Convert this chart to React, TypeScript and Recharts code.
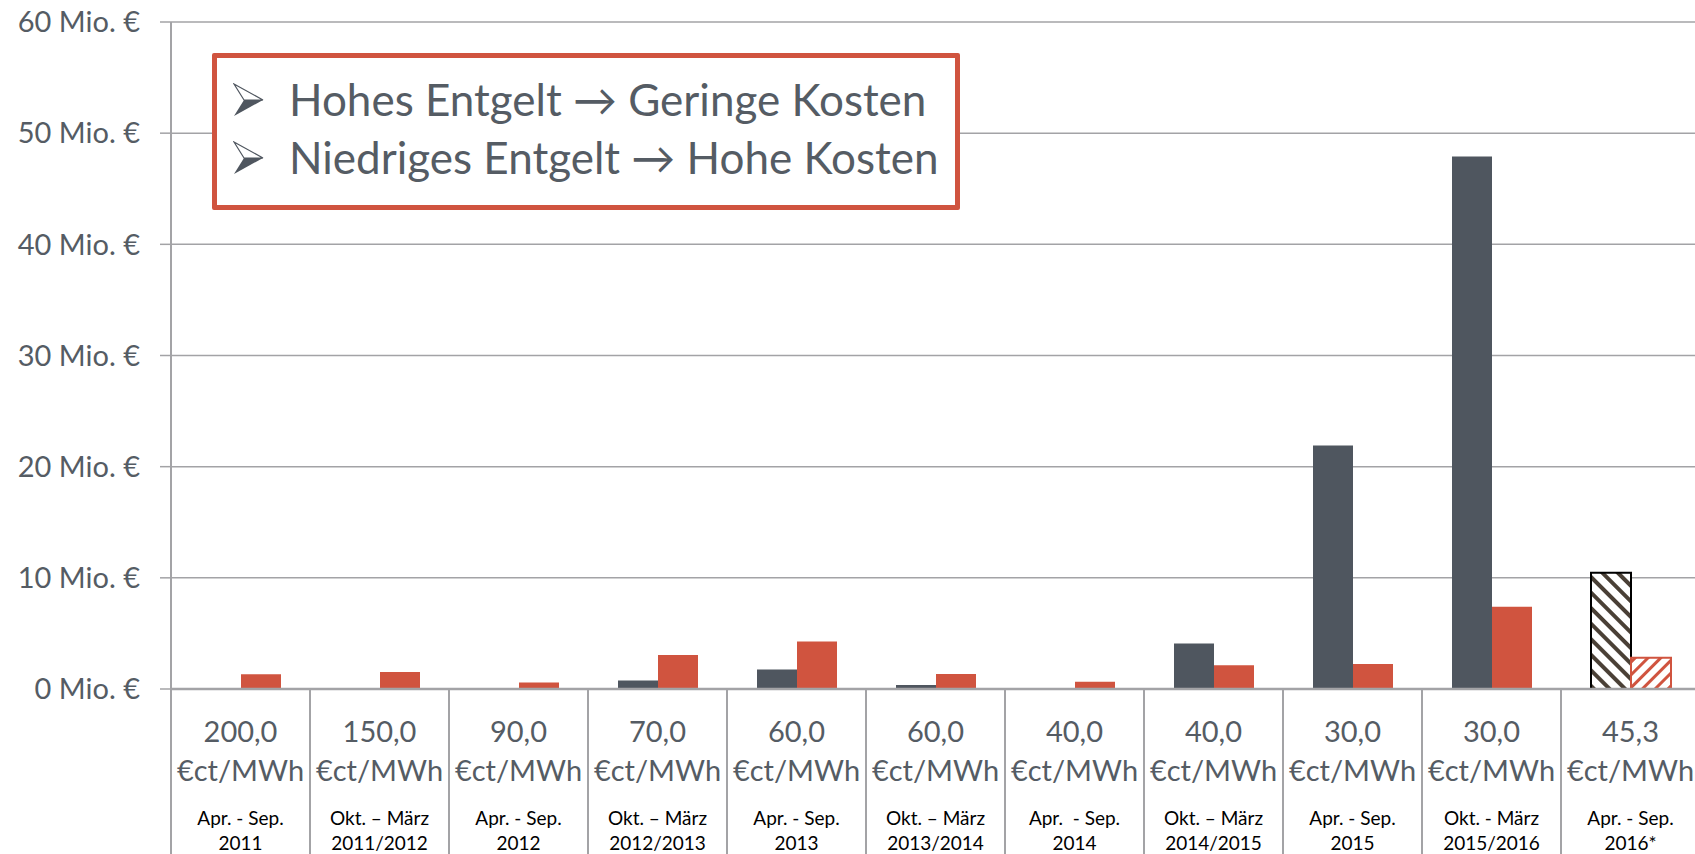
import { BarChart, Bar, Cell, XAxis, YAxis, CartesianGrid } from 'recharts';

const tariffs = ['200,0', '150,0', '90,0', '70,0', '60,0', '60,0', '40,0', '40,0', '30,0', '30,0', '45,3'];
const periods = [
  'Apr. - Sep.', 'Okt. – März', 'Apr. - Sep.', 'Okt. – März', 'Apr. - Sep.', 'Okt. – März',
  'Apr.  - Sep.', 'Okt. – März', 'Apr. - Sep.', 'Okt. - März', 'Apr. - Sep.',
];
const years = ['2011', '2011/2012', '2012', '2012/2013', '2013', '2013/2014', '2014', '2014/2015', '2015', '2015/2016', '2016*'];
const darkValues = [0, 0, 0, 0.77, 1.75, 0.35, 0.1, 4.1, 21.9, 47.9, 10.45];
const redValues = [1.32, 1.52, 0.58, 3.05, 4.28, 1.36, 0.66, 2.14, 2.24, 7.39, 2.8];
const yTicks = [0, 10, 20, 30, 40, 50, 60];
const notes = ['Hohes Entgelt → Geringe Kosten', 'Niedriges Entgelt → Hohe Kosten'];

const data = tariffs.map((t, i) => ({ name: t, dark: darkValues[i], red: redValues[i] }));

const DARK = '#4f565f';
const RED = '#d0543f';
const AXIS = '#a3a3a6';
const TEXT = '#555c64';
const BAND = 139;
const FONT = 'Lato, "Open Sans", sans-serif';

const CategoryTick = (props: any) => {
  const { x, y, payload } = props;
  const i = payload.index;
  return (
    <g>
      <line x1={x - BAND / 2} y1={y} x2={x - BAND / 2} y2={y + 170} stroke={AXIS} strokeWidth={2} />
      <text x={x} y={y + 53} textAnchor="middle" fontSize={29} fill={TEXT} fontFamily={FONT}>{tariffs[i]}</text>
      <text x={x} y={y + 92} textAnchor="middle" fontSize={29} fill={TEXT} fontFamily={FONT}>€ct/MWh</text>
      <text x={x} y={y + 136} textAnchor="middle" fontSize={19} fill="#000" fontFamily={FONT} style={{ whiteSpace: 'pre' }}>{periods[i]}</text>
      <text x={x} y={y + 161} textAnchor="middle" fontSize={19} fill="#000" fontFamily={FONT}>{years[i]}</text>
    </g>
  );
};

const Arrowhead = () => (
  <svg width={32} height={34} viewBox="0 0 32 34" style={{ position: 'absolute', left: 0, top: -17 }}>
    <polygon points="1,1 30,17 11,17" fill="#fff" stroke="#4f565f" strokeWidth={1.2} />
    <polygon points="11,17 30,17 1,33" fill="#4f565f" />
  </svg>
);

export default function App() {
  return (
    <div style={{ position: 'absolute', left: 0, top: 0, width: 1695, height: 854, overflow: 'hidden', background: '#fff', fontFamily: FONT }}>
      <BarChart width={1700} height={854} data={data} margin={{ top: 22, right: 0, bottom: 0, left: 0 }} barGap={0} barSize={40}>
        <defs>
          <pattern id="hatchDark" patternUnits="userSpaceOnUse" width={11} height={11} patternTransform="rotate(-45)">
            <rect width={11} height={11} fill="#fff" />
            <line x1={0} y1={0} x2={0} y2={11} stroke="#4a4036" strokeWidth={8} />
          </pattern>
          <pattern id="hatchRed" patternUnits="userSpaceOnUse" width={9} height={9} patternTransform="rotate(45)">
            <rect width={9} height={9} fill="#fff" />
            <line x1={0} y1={0} x2={0} y2={9} stroke={RED} strokeWidth={6} />
          </pattern>
        </defs>
        <CartesianGrid horizontal vertical={false} stroke={AXIS} strokeWidth={1.5} />
        <YAxis
          width={171}
          domain={[0, 60]}
          ticks={yTicks}
          interval={0}
          tickFormatter={(v: number) => `${v} Mio. €`}
          tick={{ fontSize: 29, fill: TEXT, fontFamily: FONT }}
          tickSize={11}
          tickMargin={20}
          tickLine={{ stroke: AXIS, strokeWidth: 1.5 }}
          axisLine={{ stroke: AXIS, strokeWidth: 2 }}
        />
        <XAxis
          dataKey="name"
          height={165}
          interval={0}
          tickSize={0}
          tickMargin={0}
          tickLine={false}
          axisLine={{ stroke: AXIS, strokeWidth: 2.5 }}
          tick={<CategoryTick />}
        />
        <Bar dataKey="dark" fill={DARK} isAnimationActive={false}>
          {data.map((_, i) => (
            <Cell
              key={`d-${i}`}
              fill={i === data.length - 1 ? 'url(#hatchDark)' : DARK}
              stroke={i === data.length - 1 ? '#000' : 'none'}
              strokeWidth={2}
            />
          ))}
        </Bar>
        <Bar dataKey="red" fill={RED} isAnimationActive={false}>
          {data.map((_, i) => (
            <Cell
              key={`r-${i}`}
              fill={i === data.length - 1 ? 'url(#hatchRed)' : RED}
              stroke={i === data.length - 1 ? RED : 'none'}
              strokeWidth={2}
            />
          ))}
        </Bar>
      </BarChart>
      <div
        style={{
          position: 'absolute', left: 212, top: 53, width: 738, height: 147,
          border: `5px solid ${RED}`, borderRadius: 2, background: '#fff',
        }}
      >
        {notes.map((n, i) => (
          <div key={n} style={{ position: 'absolute', left: 16, top: 42 + i * 58, height: 0 }}>
            <Arrowhead />
            <span style={{ position: 'absolute', left: 56, top: -30, fontSize: 44, lineHeight: '58px', color: TEXT, whiteSpace: 'nowrap' }}>{n}</span>
          </div>
        ))}
      </div>
    </div>
  );
}
